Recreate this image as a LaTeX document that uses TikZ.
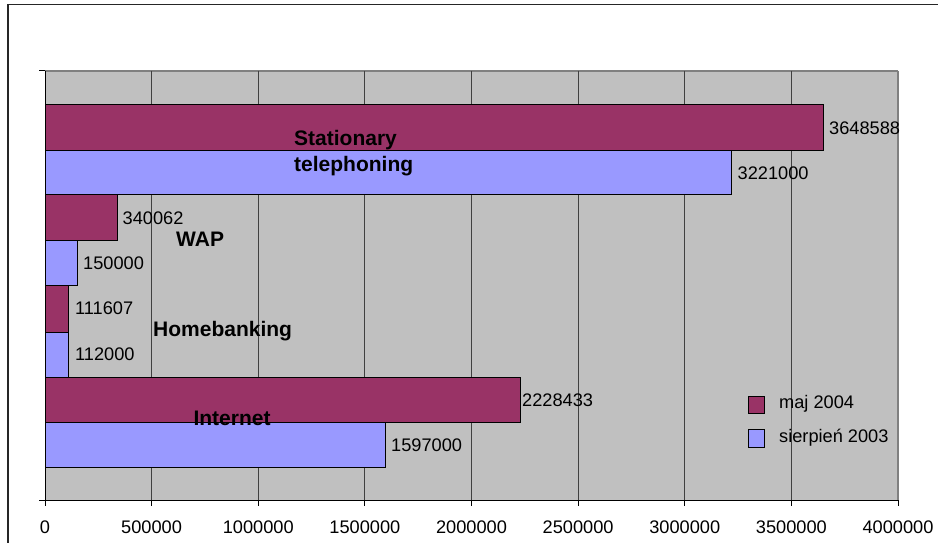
\documentclass[tikz,border=0pt]{standalone}
\usepackage{fontspec}
\setmainfont{Liberation Sans}
\definecolor{maj}{HTML}{993366}
\definecolor{sie}{HTML}{9999FF}
\definecolor{plotbg}{HTML}{C0C0C0}
\begin{document}
\begin{tikzpicture}[x=1pt,y=-1pt,
  val/.style={anchor=base west, inner sep=0pt, font=\fontsize{18.2}{20}\selectfont},
  cat/.style={anchor=base west, inner sep=0pt, font=\fontsize{21}{23}\selectfont\bfseries},
  ticklab/.style={anchor=base, inner sep=0pt, font=\fontsize{18.2}{20}\selectfont},
  bar/.style={draw=black, line width=1pt},
  grid/.style={draw=black!75, line width=1pt},
  axis/.style={draw=black, line width=1pt}]
\useasboundingbox (0,0) rectangle (938,543);
\fill[white] (0,0) rectangle (938,543);
% outer frame
\draw[line width=1.4pt, black!85] (8,543) -- (8,4.7) -- (938,4.7);
% plot area
\fill[plotbg] (45,71) rectangle (898,500);
\draw[draw=black!50, line width=1.2pt] (45,71) -- (898,71);
\draw[draw=black!50, line width=2pt] (898,71) -- (898,500);
\foreach \i in {1,...,7} \draw[grid] ({45+106.625*\i},71) -- ({45+106.625*\i},500);
% bars
\filldraw[bar, fill=maj] (45,105) rectangle (823.1,150);
\filldraw[bar, fill=sie] (45,150) rectangle (731.9,194.5);
\filldraw[bar, fill=maj] (45,194.5) rectangle (117.5,240);
\filldraw[bar, fill=sie] (45,240) rectangle (77,285);
\filldraw[bar, fill=maj] (45,285) rectangle (68.8,332);
\filldraw[bar, fill=sie] (45,332) rectangle (68.9,377);
\filldraw[bar, fill=maj] (45,377) rectangle (520.2,422);
\filldraw[bar, fill=sie] (45,422) rectangle (385.6,467);
% axes
\draw[axis] (45,71) -- (45,500);
\draw[axis] (39,71) -- (45,71);
\draw[axis] (39,500) -- (898,500);
\foreach \i in {0,...,8} \draw[axis] ({45+106.625*\i},500) -- ({45+106.625*\i},506);
% axis labels
\node[ticklab] (t0) at (45,533) {0};
\node[ticklab] (t1) at (151.6,533) {500000};
\node[ticklab] (t2) at (258.3,533) {1000000};
\node[ticklab] (t3) at (364.9,533) {1500000};
\node[ticklab] (t4) at (471.5,533) {2000000};
\node[ticklab] (t5) at (578.1,533) {2500000};
\node[ticklab] (t6) at (684.8,533) {3000000};
\node[ticklab] (t7) at (791.4,533) {3500000};
\node[ticklab] (t8) at (898,533) {4000000};
% value labels
\node[val] (v1) at (829,134) {3648588};
\node[val] (v2) at (737.5,179.5) {3221000};
\node[val] (v3) at (122.5,224) {340062};
\node[val] (v4) at (83,269) {150000};
\node[val] (v5) at (75,314.3) {111607};
\node[val] (v6) at (75,360.7) {112000};
\node[val] (v7) at (522,406) {2228433};
\node[val] (v8) at (391,451) {1597000};
% category labels
\node[cat] (c1a) at (294,145) {Stationary};
\node[cat] (c1b) at (294,171.5) {telephoning};
\node[cat] (c2) at (176,246.7) {WAP};
\node[cat] (c3) at (153,336.5) {Homebanking};
\node[cat] (c4) at (193.3,425) {Internet};
% legend
\filldraw[bar, fill=maj] (748,396) rectangle (764,413);
\filldraw[bar, fill=sie] (748,429.5) rectangle (764,447);
\node[val] (l1) at (779,408.3) {maj 2004};
\node[val] (l2) at (779,442.7) {sierpień 2003};
\end{tikzpicture}
\end{document}
